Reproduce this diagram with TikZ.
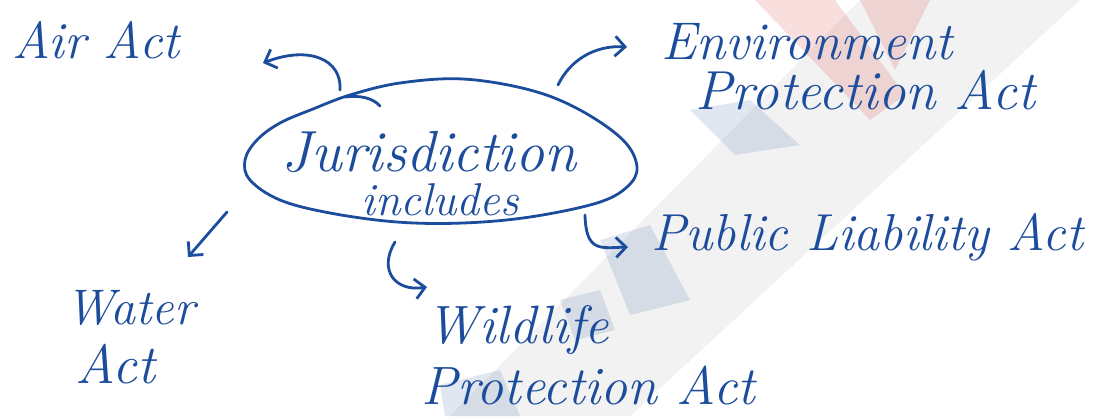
\documentclass[tikz,border=0pt]{standalone}
\usetikzlibrary{shapes.geometric,arrows.meta}
\definecolor{ink}{RGB}{28,76,156}
\definecolor{wmgray}{RGB}{150,150,155}
\definecolor{wmred}{RGB}{225,90,90}
\definecolor{wmblue}{RGB}{70,110,170}
\begin{document}
\begin{tikzpicture}[x=1pt,y=-1pt,
  hand/.style={text=ink, inner sep=0pt, font=\fontsize{52}{56}\selectfont\itshape},
  pen/.style={draw=ink, line width=2.8pt, line cap=round, line join=round},
  penarrow/.style={pen, -{Straight Barb[length=10pt,width=20pt]}},
  wm/.style={opacity=0.12}]
\useasboundingbox (0,0) rectangle (1101,416);
\fill[white] (0,0) rectangle (1101,416);

% faint background watermark
\fill[wmgray, wm] (450,416) -- (860,0) -- (1080,0) -- (630,416) -- cycle;
\fill[wmred, opacity=0.2] (755,0) -- (835,0) -- (905,95) -- (870,120) -- cycle;
\fill[wmred, opacity=0.2] (860,0) -- (930,0) -- (895,70) -- cycle;
\fill[wmblue, opacity=0.16] (690,110) -- (750,100) -- (800,145) -- (735,155) -- cycle;
\fill[wmblue, opacity=0.16] (600,240) -- (650,225) -- (690,300) -- (630,315) -- cycle;
\fill[wmblue, opacity=0.16] (560,300) -- (600,290) -- (615,330) -- (575,340) -- cycle;
\fill[wmblue, opacity=0.16] (440,385) -- (500,370) -- (520,416) -- (445,416) -- cycle;

% central bubble with its text
\node[ellipse, minimum width=392pt, minimum height=142pt] (jur) at (441,152) {};
\draw[pen] plot[smooth cycle, tension=0.6] coordinates {
  (245,160) (257,140) (280,123) (313,109) (350,95) (400,83)
  (463,79) (530,90) (580,110) (623,140) (637,167) (627,187) (597,203)
  (530,217) (463,223) (397,222) (330,213) (280,200) (250,180)};
\draw[pen] (345,97) .. controls (360,95) and (373,98) .. (380,106);
\node[hand, font=\fontsize{58}{62}\selectfont\itshape] (jtext) at (429,152) {Jurisdiction};
\node[hand, font=\fontsize{46}{50}\selectfont\itshape] (itext) at (440,200) {includes};

% surrounding labels
\node[hand] (air) at (96,40) {Air Act};
\node[hand, font=\fontsize{53}{57}\selectfont\itshape] (env1) at (807,42) {Environment};
\node[hand, font=\fontsize{55}{59}\selectfont\itshape] (env2) at (865,90) {Protection Act};
\node[hand] (pub) at (867,237) {Public Liability Act};
\node[hand, font=\fontsize{50}{54}\selectfont\itshape] (wat1) at (130,308) {Water};
\node[hand, font=\fontsize{55}{59}\selectfont\itshape] (wat2) at (115,364) {Act};
\node[hand, font=\fontsize{54}{58}\selectfont\itshape] (wild1) at (518,330) {Wildlife};
\node[hand, font=\fontsize{54}{58}\selectfont\itshape] (wild2) at (588,385) {Protection Act};

% arrow end points
\coordinate (airS) at (340,90);   \coordinate (airT) at (263,63);
\coordinate (envS) at (558,85);   \coordinate (envT) at (627,47);
\coordinate (watS) at (227,212);  \coordinate (watT) at (188,257);
\coordinate (wilS) at (395,242);  \coordinate (wilT) at (427,287);
\coordinate (pubS) at (585,215);  \coordinate (pubT) at (628,247);

% arrows
\draw[penarrow] (airS) .. controls (342,60) and (310,45) .. (airT);
\draw[penarrow] (envS) .. controls (570,60) and (595,45) .. (envT);
\draw[penarrow] (watS) -- (watT);
\draw[penarrow] (wilS) .. controls (378,270) and (395,292) .. (wilT);
\draw[penarrow] (pubS) .. controls (586,252) and (600,248) .. (pubT);
\end{tikzpicture}
\end{document}
